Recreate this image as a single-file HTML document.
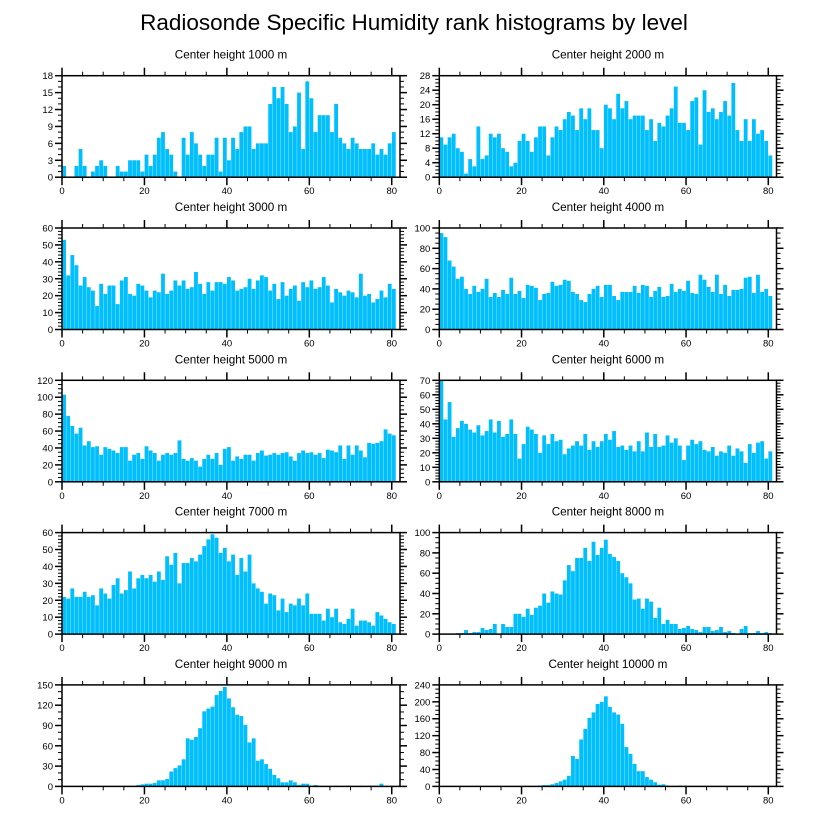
<!DOCTYPE html>
<html><head><meta charset="utf-8"><style>
html,body{margin:0;padding:0;background:#fff;}
svg{display:block;font-family:"Liberation Sans",sans-serif;}
</style></head><body>
<svg id="chart" width="816" height="824" viewBox="0 0 816 824" xmlns="http://www.w3.org/2000/svg">
<text x="414" y="30" font-size="22.5" text-anchor="middle">Radiosonde Specific Humidity rank histograms by level</text>
</svg>
<script>
const heights = [1000,2000,3000,4000,5000,6000,7000,8000,9000,10000];
const yMaxes = [18,28,60,100,120,70,60,100,150,240];
const yStepsMajor = [3,4,10,20,20,10,10,20,30,40];
const xTickLabels = [0,20,40,60,80];
const counts1000 = [2,0,0,2,5,2,0,1,2,3,2,0,0,2,1,1,3,3,3,1,4,2,4,7,8,5,4,1,0,7,4,8,6,4,2,4,4,7,1,7,3,7,5,8,9,9,5,6,6,6,13,16,14,16,13,8,9,15,5,17,14,8,11,11,11,8,13,7,6,5,7,6,5,5,5,6,4,5,4,6,8];
const counts2000 = [11,9,11,12,8,7,1,5,3,14,5,6,12,11,12,8,7,3,4,10,12,10,7,11,14,14,6,11,14,13,16,18,17,13,19,16,19,13,13,8,20,19,16,23,19,21,16,17,17,17,13,16,10,15,14,17,19,25,15,15,13,21,22,9,24,18,19,16,18,21,17,26,13,10,16,10,16,12,13,10,6];
const counts3000 = [53,32,44,38,26,31,25,23,14,27,21,26,26,15,29,31,21,20,27,26,23,19,23,22,33,21,23,29,26,29,24,25,34,27,21,28,23,28,28,27,31,29,23,24,25,30,24,29,32,31,23,27,18,28,20,24,26,17,28,25,29,24,25,31,26,16,24,22,20,23,22,19,33,20,21,16,18,23,19,27,24];
const counts4000 = [95,91,68,62,50,52,40,35,43,37,40,50,32,36,32,39,35,51,35,38,31,44,43,41,29,35,36,47,43,44,49,48,37,35,29,27,35,40,43,32,44,44,33,29,37,37,37,43,36,44,43,32,38,42,32,33,45,37,40,38,48,36,35,54,49,42,37,54,35,44,33,39,39,40,51,52,36,54,37,40,33];
const counts5000 = [103,78,66,57,64,43,48,41,42,32,41,39,37,34,41,41,25,32,34,27,42,37,34,25,32,34,32,34,49,27,25,28,25,18,27,32,27,34,20,39,41,25,30,27,32,32,25,34,37,31,32,34,32,34,35,30,25,34,37,34,35,32,34,28,38,37,35,43,27,43,32,43,37,29,46,45,46,48,62,57,55];
const counts6000 = [70,43,55,31,37,42,40,36,34,39,32,35,43,34,42,31,33,43,33,16,26,38,36,33,20,32,26,33,28,29,19,23,25,28,25,33,22,28,24,28,33,29,35,24,25,22,25,21,28,21,34,24,33,24,25,32,27,30,25,15,25,29,26,28,22,21,24,18,21,20,25,18,23,21,13,26,20,27,28,16,21];
const counts7000 = [22,21,27,22,22,25,22,23,17,27,24,21,29,33,24,26,37,27,33,35,33,35,31,37,32,46,41,48,30,42,42,45,43,47,52,56,59,57,48,51,43,47,35,45,37,47,30,27,25,18,24,23,14,21,13,18,17,21,17,24,12,12,12,8,15,10,15,7,6,9,15,5,8,8,7,5,13,11,9,7,6];
const counts8000 = [0,0,0,0,1,1,4,1,2,2,6,4,5,10,0,10,7,7,20,20,17,25,19,26,28,40,31,42,40,39,53,68,62,75,75,85,72,91,78,85,93,79,76,72,60,56,50,34,35,25,35,32,16,26,10,14,10,10,5,6,8,5,4,2,7,7,3,4,7,2,3,1,0,5,8,1,1,3,1,2,1];
const counts9000 = [0,0,0,0,0,0,0,0,0,0,0,0,0,0,0,0,0,0,2,3,4,4,5,9,9,11,22,27,31,40,71,69,73,86,111,115,118,135,141,147,130,117,106,104,91,65,71,38,40,33,26,17,12,6,6,9,6,2,4,4,1,2,1,0,0,0,1,0,0,1,0,0,1,0,1,1,0,4,0,0,0];
const counts10000 = [0,0,0,0,0,0,0,0,0,0,0,0,0,0,0,0,0,0,0,0,0,0,1,1,2,3,3,5,8,12,16,25,72,65,111,136,162,175,195,200,213,188,175,170,148,93,77,53,36,36,22,16,10,4,5,2,1,1,2,1,0,0,0,0,0,1,1,1,0,0,0,0,0,0,0,0,0,0,0,0,0];
const allCounts = [counts1000,counts2000,counts3000,counts4000,counts5000,counts6000,counts7000,counts8000,counts9000,counts10000];
const X_MAX = 82;

const svg = document.getElementById('chart');
const NS = 'http://www.w3.org/2000/svg';
function mk(tag, attrs, parent){
  const e = document.createElementNS(NS, tag);
  for (const k in attrs) e.setAttribute(k, attrs[k]);
  parent.appendChild(e);
  return e;
}
function minorCount(step){ if (step%4===0) return 4; if (step%3===0) return 3; return 5; }

for (let p = 0; p < 10; p++) {
  const col = p % 2, row = Math.floor(p / 2);
  const L = col === 0 ? 62 : 439.3;
  const R = col === 0 ? 400 : 776.5;
  const T = 75.7 + row * 152.3;
  const B = T + 101.5;
  const ymax = yMaxes[p], ystep = yStepsMajor[p];
  const xs = v => L + (v / X_MAX) * (R - L);
  const ys = v => B - (v / ymax) * (B - T);
  const g = mk('g', {}, svg);
  
  

  const t = mk('text', {x: (L + R) / 2, y: T - 17, 'font-size': 11.7, 'text-anchor': 'middle'}, g);
  
  
  t.textContent = 'Center height ' + heights[p] + ' m';

  const bars = mk('g', {}, g);
  
  
  const data = allCounts[p];
  for (let i = 0; i < data.length; i++) {
    if (data[i] <= 0) continue;
    const x0 = xs(i), x1 = xs(i + 1), y0 = ys(Math.min(data[i], ymax));
    const r = mk('rect', {x: x0 + 0.15, y: y0, width: Math.max(0.5, x1 - x0 - 0.3), height: B - y0, fill: '#00bfff'}, bars);
    
    
  }

  const ax = mk('g', {stroke: '#000', fill: 'none'}, g);
  
  
  mk('rect', {x: L, y: T, width: R - L, height: B - T, 'stroke-width': 1.5}, ax);
  for (let v = 0; v <= X_MAX; v += 5) {
    const major = v % 20 === 0;
    const len = major ? 8 : 4;
    const x = xs(v);
    mk('line', {x1: x, y1: B, x2: x, y2: B + len, 'stroke-width': major ? 1.5 : 1}, ax);
    mk('line', {x1: x, y1: T, x2: x, y2: T - len, 'stroke-width': major ? 1.5 : 1}, ax);
  }
  const mc = minorCount(ystep);
  for (let k = 0; k * ystep / mc <= ymax + 1e-9; k++) {
    const v = k * ystep / mc;
    const major = k % mc === 0;
    const len = major ? 7 : 4;
    const y = ys(v);
    mk('line', {x1: L, y1: y, x2: L - len, y2: y, 'stroke-width': major ? 1.5 : 1}, ax);
    mk('line', {x1: R, y1: y, x2: R + len, y2: y, 'stroke-width': major ? 1.5 : 1}, ax);
  }
  for (let v = 0; v <= ymax; v += ystep) {
    const tl = mk('text', {x: L - 9, y: ys(v) + 3.5, 'font-size': 9.5, 'text-anchor': 'end'}, g);
    
    
    tl.textContent = v;
  }
  for (const v of xTickLabels) {
    const tl = mk('text', {x: xs(v), y: B + 17, 'font-size': 9.5, 'text-anchor': 'middle'}, g);
    
    
    tl.textContent = v;
  }
}
</script>
</body></html>
